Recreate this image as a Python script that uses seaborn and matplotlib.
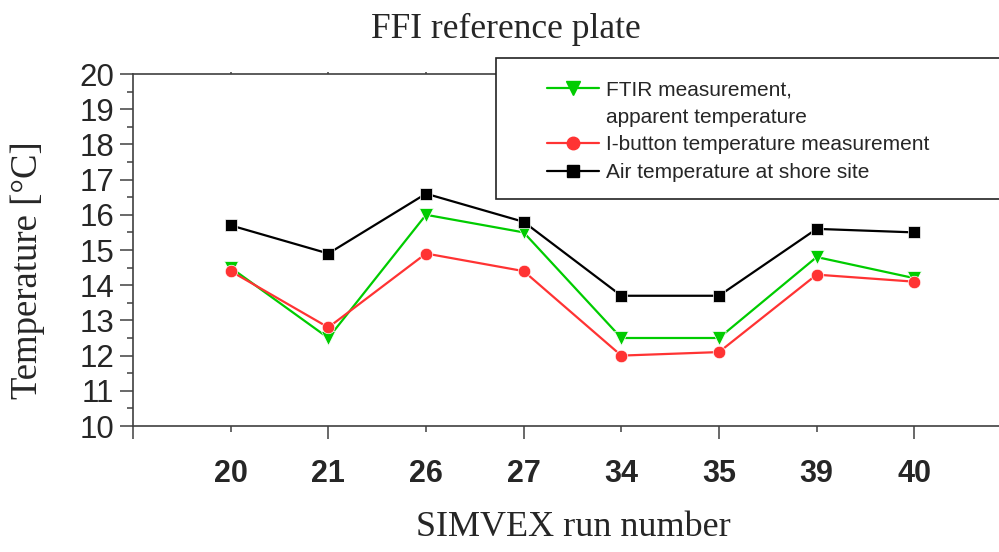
import matplotlib
matplotlib.use("Agg")
import matplotlib.pyplot as plt
import numpy as np
import pandas as pd
import seaborn as sns
from matplotlib.lines import Line2D
from matplotlib.patches import Rectangle
from matplotlib.ticker import MultipleLocator, FixedLocator

# SIMVEX runs and measured temperatures (°C)
runs = ["20", "21", "26", "27", "34", "35", "39", "40"]
ftir = [14.5, 12.5, 16.0, 15.5, 12.5, 12.5, 14.8, 14.2]
ibutton = [14.4, 12.8, 14.9, 14.4, 12.0, 12.1, 14.3, 14.1]
air = [15.7, 14.9, 16.6, 15.8, 13.7, 13.7, 15.6, 15.5]

labels = ["FTIR measurement,", "I-button temperature measurement",
          "Air temperature at shore site"]
label_cont = "apparent temperature"
colors = ["#00cc00", "#ff3333", "#000000"]
markers = ["v", "o", "s"]
msizes = [10, 9, 8]

sns.set_style("ticks")
plt.rcParams["font.family"] = ["Liberation Sans", "DejaVu Sans"]

pos = list(range(len(runs)))
df = pd.DataFrame({
    "pos": pos * 3,
    "temp": ftir + ibutton + air,
    "series": sum([[lab] * len(runs) for lab in labels], []),
})

W, H = 999, 552
fig = plt.figure(figsize=(W / 100, H / 100), dpi=100)
ax = fig.add_axes([133 / W, (H - 426) / H, (1012 - 133) / W, (426 - 74) / H])

handles = []
for lab, c, m, ms in zip(labels, colors, markers, msizes):
    sub = df[df["series"] == lab]
    sns.lineplot(data=sub, x="pos", y="temp", color=c, marker=m,
                 markersize=ms, linewidth=1.6, markeredgecolor="white",
                 markeredgewidth=0.5, ax=ax, legend=False)
    handles.append(Line2D([], [], color=c, marker=m, markersize=ms,
                          linewidth=1.6, markeredgecolor=c))

axis_col = "#404040"
for s in ax.spines.values():
    s.set_color(axis_col)
    s.set_linewidth(1.2)

ax.set_xlim(-1, len(runs))
ax.set_ylim(10, 20)
ax.yaxis.set_major_locator(MultipleLocator(1))
ax.yaxis.set_minor_locator(MultipleLocator(0.5))
ax.tick_params(axis="y", which="major", length=9.5, width=1.1,
               color=axis_col, labelsize=22.5, pad=4)
ax.tick_params(axis="y", which="minor", length=4.5, width=1.1, color=axis_col)

ax.set_xticks(pos)
ax.set_xticklabels(runs, fontweight="bold", fontsize=22)
ax.xaxis.set_minor_locator(FixedLocator([-1]))
ax.tick_params(axis="x", which="major", length=4.5, width=1.1,
               color=axis_col, pad=19, top=True, direction="out")
ax.tick_params(axis="x", which="minor", length=9, width=1.1, color=axis_col)
for i, t in enumerate(ax.xaxis.get_major_ticks()):
    if i % 2 == 1:
        t.tick1line.set_markersize(9)
    t.tick2line.set_markersize(1.5)

ax.set_xlabel("")
ax.set_ylabel("")
ax.grid(False)

serif = ["Liberation Serif", "DejaVu Serif"]
fig.text(506 / W, 1 - 29 / H, "FFI reference plate", family=serif,
         fontsize=25.5, ha="center", va="center")
fig.text(573 / W, 1 - 527 / H, "SIMVEX run number", family=serif,
         fontsize=26, ha="center", va="center")
fig.text(28 / W, 1 - 270 / H, "Temperature [°C]", family=serif,
         fontsize=26.5, ha="center", va="center", rotation=90)

# legend frame
box = Rectangle((496 / W, 1 - 199 / H), (1010 - 496) / W, (199 - 58) / H,
                transform=fig.transFigure, facecolor="white",
                edgecolor="#222222", linewidth=1.2, zorder=5)
fig.patches.append(box)

blank = Line2D([], [], linestyle="none", marker=None)
leg = fig.legend([handles[0], blank, handles[1], handles[2]],
                 [labels[0], label_cont, labels[1], labels[2]],
                 loc="upper left", bbox_to_anchor=(547 / W, 1 - 80 / H),
                 frameon=False, fontsize=15, handlelength=2.5,
                 handletextpad=0.33, labelspacing=0.42, borderpad=0,
                 borderaxespad=0)
leg.set_zorder(6)

fig.savefig("out.png", dpi=100)
